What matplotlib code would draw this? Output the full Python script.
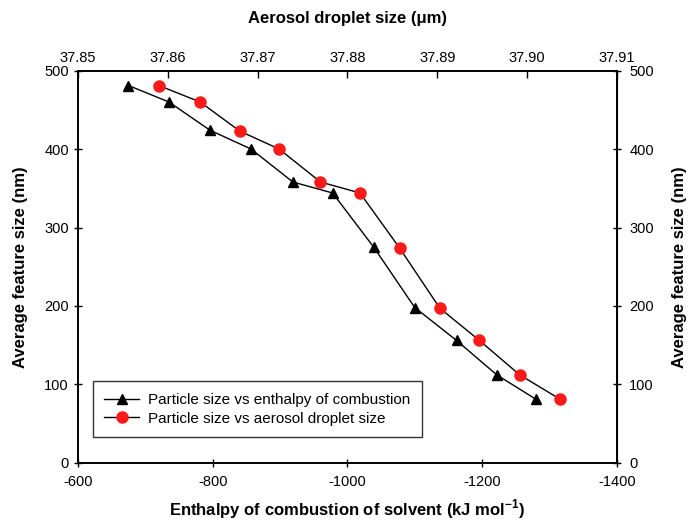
import matplotlib
matplotlib.use("Agg")
import matplotlib.pyplot as plt
import numpy as np

plt.rcParams['font.family'] = ['Liberation Sans', 'DejaVu Sans']
plt.rcParams['mathtext.fontset'] = 'custom'
plt.rcParams['mathtext.rm'] = 'Liberation Sans'
plt.rcParams['mathtext.bf'] = 'Liberation Sans:bold'
plt.rcParams['axes.unicode_minus'] = False

# particle size vs enthalpy (bottom axis)
enthalpy = [-675, -735, -796, -857, -919, -978, -1039, -1100, -1162, -1222, -1280]
size_enthalpy = [481, 460, 424, 400, 358, 344, 275, 198, 156, 112, 81]

# particle size vs aerosol droplet size (top axis)
droplet = [37.8590, 37.8636, 37.8680, 37.8724, 37.8770, 37.8814,
           37.8858, 37.8903, 37.8947, 37.8992, 37.9037]
size_droplet = [481, 460, 423, 400, 358, 344, 274, 197, 156, 112, 81]

bottom_ticks = [-600, -800, -1000, -1200, -1400]
top_ticks = [37.85, 37.86, 37.87, 37.88, 37.89, 37.90, 37.91]
top_labels = ['37.85', '37.86', '37.87', '37.88', '37.89', '37.90', '37.91']
y_ticks = [0, 100, 200, 300, 400, 500]

fig = plt.figure(figsize=(6.9, 5.23), dpi=100)
ax = fig.add_axes([0.113, 0.115, 0.781, 0.75])

l1, = ax.plot(enthalpy, size_enthalpy, color='black', lw=1.0, marker='^',
              ms=7.5, mfc='black', mec='black',
              label='Particle size vs enthalpy of combustion')
ax.set_xlim(-600, -1400)
ax.set_ylim(0, 500)
ax.set_xticks(bottom_ticks)
ax.set_yticks(y_ticks)
ax.tick_params(direction='inout', length=6, width=1, labelsize=10.5,
               right=False, top=False)
ax.tick_params(axis='x', pad=6)
ax.set_xlabel(r'Enthalpy of combustion of solvent (kJ mol$^{\mathbf{-1}}$)',
              fontsize=12, fontweight='bold', labelpad=6)
ax.set_ylabel('Average feature size (nm)', fontsize=12, fontweight='bold', labelpad=12)

sec = ax.secondary_yaxis('right')
sec.set_yticks(y_ticks)
sec.tick_params(direction='inout', length=6, width=1, labelsize=10.5, pad=6)
sec.set_ylabel('Average feature size (nm)', fontsize=12, fontweight='bold', labelpad=13)

axt = ax.twiny()
l2, = axt.plot(droplet, size_droplet, color='black', lw=1.0, marker='o',
               ms=8, mfc='#ff1a1a', mec='#ff1a1a',
               label='Particle size vs aerosol droplet size')
axt.set_xlim(37.85, 37.91)
axt.set_xticks(top_ticks)
axt.set_xticklabels(top_labels)
axt.tick_params(direction='in', length=5, width=1, labelsize=10.5, pad=4)
axt.set_xlabel('Aerosol droplet size (\u03bcm)', fontsize=12, fontweight='bold', labelpad=20)

for a in (ax, axt):
    for s in a.spines.values():
        s.set_linewidth(1.2)

leg = ax.legend(handles=[l1, l2], loc='lower left', bbox_to_anchor=(0.027, 0.066),
                fontsize=11, frameon=True, fancybox=False, edgecolor='black',
                handlelength=2.3, borderpad=0.75, labelspacing=0.3,
                handletextpad=0.6, borderaxespad=0)
leg.get_frame().set_linewidth(1.0)

fig.savefig('out.png', dpi=100)
